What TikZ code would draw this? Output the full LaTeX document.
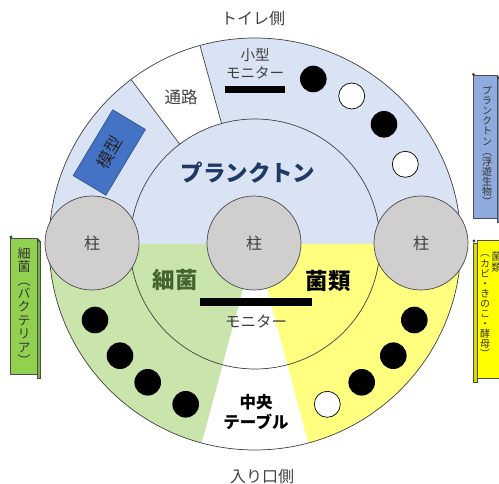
\documentclass[tikz,border=0pt]{standalone}
\usepackage{fontspec}
\setmainfont{Noto Sans CJK JP}
\newfontfamily\jpv{Noto Sans CJK JP}[RawFeature=+vert]
\usetikzlibrary{calc}
\definecolor{cblue}{HTML}{DAE3F3}
\definecolor{cgreen}{HTML}{C9E5AC}
\definecolor{cyellow}{HTML}{FFFF80}
\definecolor{cgray}{HTML}{D0CECE}
\definecolor{cnavy}{HTML}{1F3864}
\definecolor{cdgreen}{HTML}{44642F}
\definecolor{txtgray}{HTML}{404040}
\definecolor{cmodel}{HTML}{4472C4}
\definecolor{cscrollb}{HTML}{8FAADC}
\definecolor{cscrollg}{HTML}{92D050}
\definecolor{cscrolly}{HTML}{FFFF00}
\tikzset{
  lbl/.style={inner sep=0pt, text=txtgray, font=\fontsize{16}{19}\selectfont},
  big/.style={inner sep=0pt, font=\bfseries\fontsize{22.5}{26}\selectfont},
  pillar/.style={circle, inner sep=0pt, minimum size=94pt, fill=cgray, draw=black!70, line width=0.7pt, text=txtgray, font=\fontsize{16}{19}\selectfont},
  bdot/.style={circle, inner sep=0pt, minimum size=26.6pt, fill=black},
  wdot/.style={circle, inner sep=0pt, minimum size=26pt, fill=white, draw=black, line width=0.7pt},
  ring/.style={draw=black!75, line width=0.7pt},
  scroll/.style={draw=black!70, line width=0.6pt},
  vtext/.style={inner sep=0pt, align=center, text=black!80}
}
\begin{document}
\begin{tikzpicture}[x=1pt,y=-1pt]
\useasboundingbox (0,0) rectangle (499,484);
\clip (0,0) rectangle (499,484);
\coordinate (C) at (255,244);
% sectors
\fill[cblue] (C) -- ++(0:206) arc[start angle=0,end angle=-180,radius=206] -- cycle;
\fill[cgreen] (C) -- ++(180:206) arc[start angle=180,end angle=105,radius=206] -- cycle;
\fill[cyellow] (C) -- ++(75:206) arc[start angle=75,end angle=0,radius=206] -- cycle;
\fill[white] ($(C)+(233:206)$) arc[start angle=233,end angle=254.5,radius=206]
  -- ($(C)+(254.5:125)$) arc[start angle=254.5,end angle=233,radius=125] -- cycle;
% outlines
\draw[ring] (C) +(233:125) -- +(233:206);
\draw[ring] (C) +(254.5:125) -- +(254.5:206);
\draw[ring] (C) circle[radius=206];
\draw[ring] (C) circle[radius=125];
% model box
\node[draw=cmodel!70!black, fill=cmodel, line width=0.6pt, minimum width=76.8pt, minimum height=38.2pt, rotate=59, inner sep=0pt, text=black!85, font=\fontsize{17}{20}\selectfont] (model) at (109.3,152.5) {模型};
% pillars
\node[pillar] (p1) at (92,243) {柱};
\node[pillar] (p2) at (254,243) {柱};
\node[pillar] (p3) at (421,243) {柱};
% monitors
\fill (225,86) rectangle (285,93);
\fill (200,298) rectangle (312,306);
% dots upper right
\node[bdot] (u1) at (313.3,79) {};
\node[wdot] (u2) at (351.7,96) {};
\node[bdot] (u3) at (384,124.3) {};
\node[wdot] (u4) at (405.3,164.3) {};
% dots lower left
\node[bdot] (l1) at (95,320) {};
\node[bdot] (l2) at (120,355.7) {};
\node[bdot] (l3) at (147.7,382.3) {};
\node[bdot] (l4) at (185.7,404.3) {};
% dots lower right
\node[bdot] (r1) at (414.3,320) {};
\node[bdot] (r2) at (393.3,355.7) {};
\node[bdot] (r3) at (361.7,382.3) {};
\node[wdot] (r4) at (327.3,404.3) {};
% labels
\node[lbl] (toilet) at (253,18) {トイレ側};
\node[lbl, align=center, font=\fontsize{14.5}{18}\selectfont] (smon) at (255,64) {小型\\モニター};
\node[lbl, font=\fontsize{16.5}{19}\selectfont] (aisle) at (181,97) {通路};
\node[big, text=cnavy] (plk) at (248,173) {プランクトン};
\node[big, text=cdgreen] (bac) at (175,280) {細菌};
\node[big, text=black] (fun) at (328,281) {菌類};
\node[lbl, font=\fontsize{15.5}{19}\selectfont] (mon) at (256,322) {モニター};
\node[inner sep=0pt, align=center, font=\bfseries\fontsize{16.5}{20}\selectfont] (table) at (256,412) {中央\\テーブル};
\node[lbl] (entr) at (262,476) {入り口側};
% scroll: plankton (right top)
\filldraw[scroll, fill=cscrollb] (473,75) rectangle (497,218);
\filldraw[scroll, fill=cscrollb!85!black] (497,78) rectangle (501,222);
\fill[black!75] (473.5,74.5) circle[radius=1.7];
\fill[black!75] (498,77.5) circle[radius=1.5];
\node[vtext, font=\jpv\fontsize{10}{10.15}\selectfont] (sp) at (487,146) {プ\\ラ\\ン\\ク\\ト\\ン\\（\\浮\\遊\\生\\物\\）};
% scroll: bacteria (left)
\filldraw[scroll, fill=cscrollg] (10,238) rectangle (37,374);
\filldraw[scroll, fill=cscrollg!85!black] (37,241) rectangle (40,378);
\fill[black!75] (11,237) circle[radius=1.7];
\fill[black!75] (38.5,240.5) circle[radius=1.5];
\node[vtext, font=\jpv\fontsize{13}{13.4}\selectfont] (sb) at (24,306.5) {細\\菌\\（\\バ\\ク\\テ\\リ\\ア\\）};
% scroll: fungi (right bottom)
\filldraw[scroll, fill=cscrolly] (477,240) rectangle (506,378);
\filldraw[scroll, fill=cscrolly!85!black] (473,243) rectangle (477,382);
\fill[black!75] (474,241) circle[radius=1.7];
\node[vtext, font=\jpv\fontsize{10.5}{11.5}\selectfont] (sf1) at (496.7,262) {菌\\類};
\node[vtext, font=\jpv\fontsize{10}{10.1}\selectfont] (sf2) at (485,306.5) {（\\カ\\ビ\\・\\き\\の\\こ\\・\\酵\\母\\）};
\end{tikzpicture}
\end{document}
